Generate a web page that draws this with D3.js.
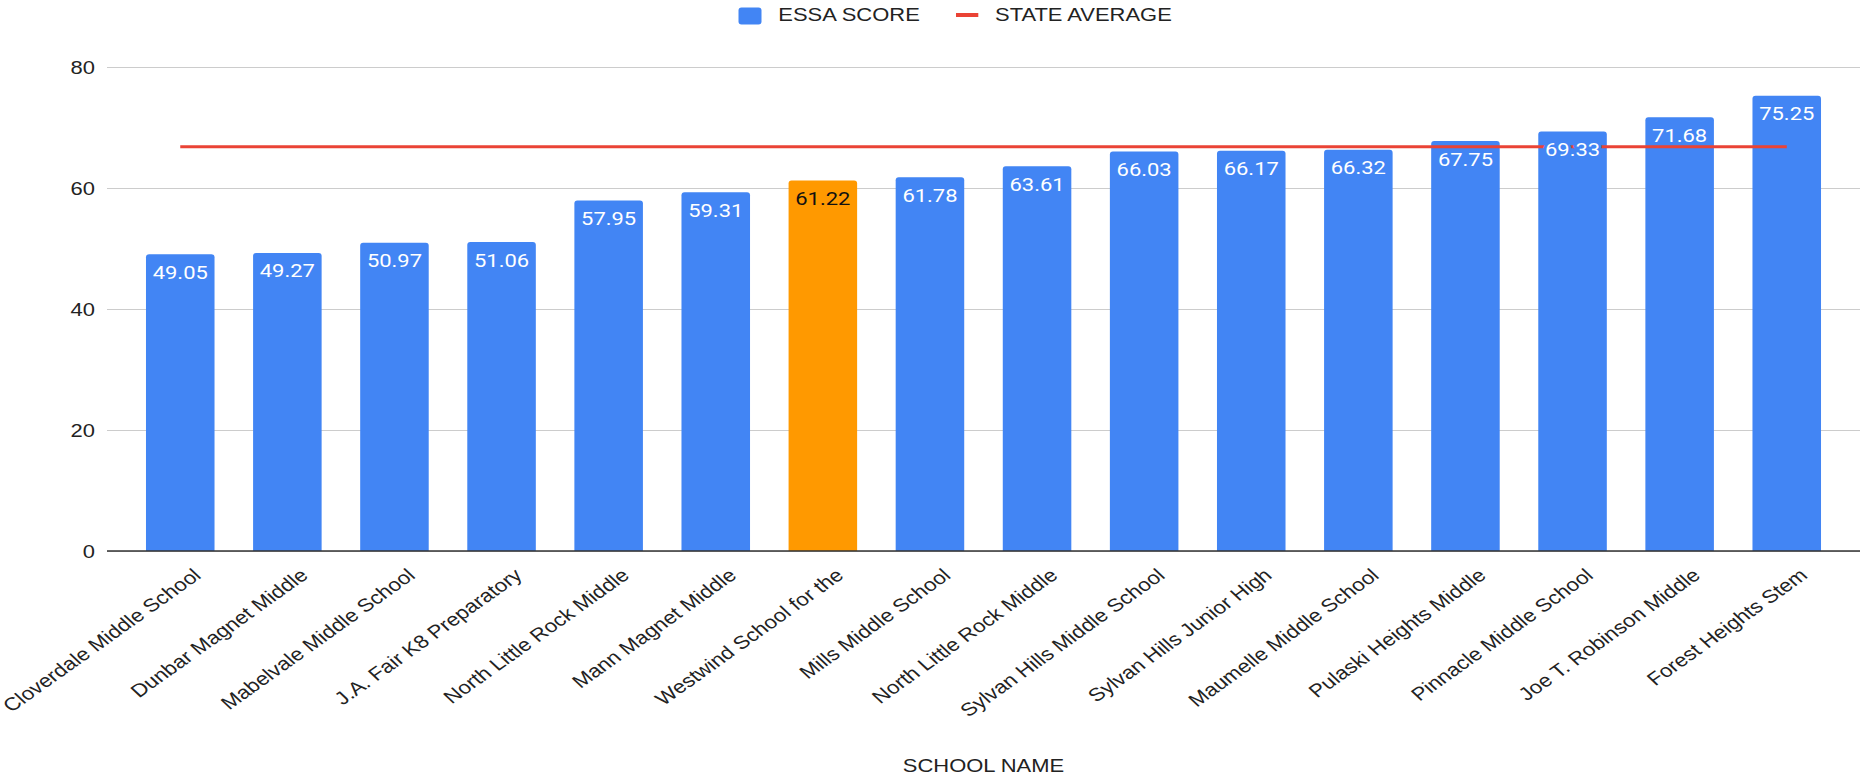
<!DOCTYPE html>
<html>
<head>
<meta charset="utf-8">
<script src="https://cdn.jsdelivr.net/npm/d3@7"></script>
<style>
  html, body { margin: 0; padding: 0; background: #fff; }
  svg { display: block; }
</style>
</head>
<body>
<svg id="chart" width="1866" height="775"></svg>
<script>
const schools = [
  "Cloverdale Middle School", "Dunbar Magnet Middle", "Mabelvale Middle School",
  "J.A. Fair K8 Preparatory", "North Little Rock Middle", "Mann Magnet Middle",
  "Westwind School for the", "Mills Middle School", "North Little Rock Middle ",
  "Sylvan Hills Middle School", "Sylvan Hills Junior High", "Maumelle Middle School",
  "Pulaski Heights Middle", "Pinnacle Middle School", "Joe T. Robinson Middle",
  "Forest Heights Stem"
];
const essaScores = [49.05, 49.27, 50.97, 51.06, 57.95, 59.31, 61.22, 61.78, 63.61,
  66.03, 66.17, 66.32, 67.75, 69.33, 71.68, 75.25];
const stateAverage = 66.83;
const highlighted = ["Westwind School for the"];
const yTicks = [0, 20, 40, 60, 80];
const seriesNames = ["ESSA SCORE", "STATE AVERAGE"];
const xTitle = "SCHOOL NAME";

(function () {
const BLUE = "#4285F4", ORANGE = "#FF9900", RED = "#EA4335";
const S = 1.22; // horizontal stretch of the reference's text
const FONT = "'Liberation Sans', Arial, sans-serif";
const LABEL_FONT = "Roboto, 'Liberation Sans', Arial, sans-serif";

const svg = d3.select("#chart");
const pL = 107, pR = 1860, pT = 67, pB = 551;

const x = d3.scaleBand().domain(schools).range([pL, pR]).paddingInner(0.36).paddingOuter(0.364);
const y = d3.scaleLinear().domain([0, 80]).range([pB, pT]);

// gridlines + y tick labels
const yAxis = svg.append("g")
  .attr("transform", `translate(${pL},0)`)
  .call(d3.axisLeft(y).tickValues(yTicks).tickSize(-(pR - pL)).tickPadding(0).tickFormat(d3.format("d")));
yAxis.select(".domain").remove();
yAxis.selectAll(".tick line").attr("stroke", "#cccccc").attr("stroke-width", 1.2);
yAxis.selectAll(".tick text")
  .attr("x", null).attr("dy", null)
  .attr("text-anchor", "end")
  .attr("font-family", FONT).attr("font-size", 18).attr("fill", "#222")
  .attr("transform", `translate(-12,6.5) scale(${S},1)`);

// bars with rounded tops
const r = 3;
function barPath(d, i) {
  const x0 = x(schools[i]), w = x.bandwidth(), y0 = y(d), yb = y(0);
  return `M${x0},${yb} V${y0 + r} Q${x0},${y0} ${x0 + r},${y0} H${x0 + w - r} Q${x0 + w},${y0} ${x0 + w},${y0 + r} V${yb} Z`;
}
const colorOf = i => highlighted.includes(schools[i]) ? ORANGE : BLUE;
svg.append("g").selectAll("path").data(essaScores).join("path")
  .attr("d", barPath)
  .attr("fill", (d, i) => colorOf(i));

// baseline
svg.append("line").attr("x1", pL).attr("x2", pR).attr("y1", y(0)).attr("y2", y(0))
  .attr("stroke", "#333").attr("stroke-width", 1.5);

// state average line
const avgLine = d3.line().x(d => d[0]).y(d => y(d[1]));
svg.append("path")
  .attr("d", avgLine([[x(schools[0]) + x.bandwidth() / 2, stateAverage],
                      [x(schools[schools.length - 1]) + x.bandwidth() / 2, stateAverage]]))
  .attr("stroke", RED).attr("stroke-width", 3).attr("fill", "none");

// data labels
svg.append("g").selectAll("text").data(essaScores).join("text")
  .attr("transform", (d, i) => `translate(${x(schools[i]) + x.bandwidth() / 2},${y(d) + 24.5}) scale(${S},1)`)
  .attr("text-anchor", "middle")
  .attr("font-family", LABEL_FONT).attr("font-size", 18)
  .attr("fill", (d, i) => colorOf(i) === ORANGE ? "#111" : "#fff")
  .attr("stroke", (d, i) => colorOf(i)).attr("stroke-width", 5).attr("paint-order", "stroke")
  .attr("stroke-linejoin", "round")
  .text(d => d3.format(".2f")(d));

// x labels
const xAxis = svg.append("g").attr("transform", `translate(0,${pB})`)
  .call(d3.axisBottom(x).tickSize(0).tickFormat(d => d.trim()));
xAxis.select(".domain").remove();
xAxis.selectAll(".tick text")
  .attr("y", null).attr("dy", null).attr("x", null)
  .attr("text-anchor", "end")
  .attr("font-family", FONT).attr("font-size", 18.3).attr("fill", "#222")
  .attr("transform", `translate(22,26) scale(${S},1) rotate(-41)`);

// legend
const lg = svg.append("g");
lg.append("rect").attr("x", 738.5).attr("y", 7.5).attr("width", 23).attr("height", 17).attr("rx", 3).attr("fill", BLUE);
lg.append("text").attr("transform", `translate(778.3,20.7) scale(${S},1)`)
  .attr("font-family", FONT).attr("font-size", 18).attr("fill", "#222").text(seriesNames[0]);
lg.append("line").attr("x1", 956).attr("x2", 978.3).attr("y1", 15).attr("y2", 15)
  .attr("stroke", RED).attr("stroke-width", 4);
lg.append("text").attr("transform", `translate(995,20.7) scale(${S},1)`)
  .attr("font-family", FONT).attr("font-size", 18).attr("fill", "#222").text(seriesNames[1]);

// x axis title
svg.append("text").attr("transform", `translate(${(pL + pR) / 2},772) scale(${S},1)`)
  .attr("text-anchor", "middle")
  .attr("font-family", FONT).attr("font-size", 18).attr("fill", "#222").text(xTitle);
})();
</script>
</body>
</html>
